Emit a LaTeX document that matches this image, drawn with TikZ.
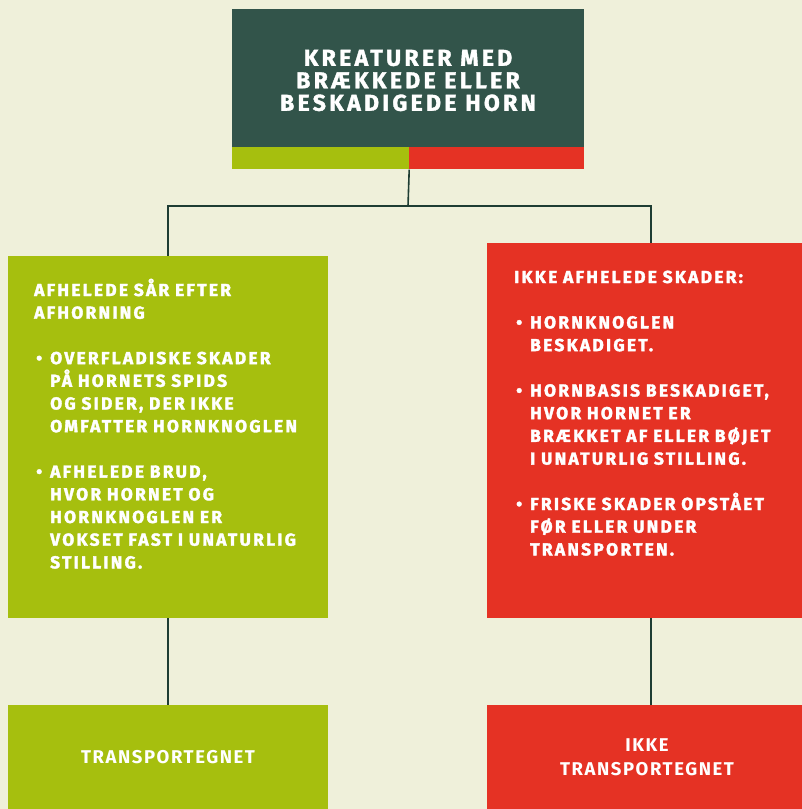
\documentclass[tikz,border=0pt]{standalone}
\usepackage{fontspec}
\setmainfont{Fira Sans}
\newfontfamily\boxfont[LetterSpace=13, BoldFeatures={FakeBold=2}]{Fira Sans}
\newfontfamily\headfont[LetterSpace=14.5, BoldFeatures={FakeBold=1.6}]{Fira Sans}
\newfontfamily\endfont[LetterSpace=8.5]{Fira Sans}
\usetikzlibrary{positioning}

\definecolor{bgcream}{HTML}{EFF0DA}
\definecolor{darkgreen}{HTML}{32544A}
\definecolor{limegreen}{HTML}{A6BF0E}
\definecolor{signalred}{HTML}{E53224}
\definecolor{linegreen}{HTML}{1E3D33}

\newcommand{\bul}{\hspace*{2pt}\makebox[14pt][l]{•}}
\newcommand{\ind}{\hspace*{16pt}}

\tikzset{
    block/.style={rectangle, inner sep=0pt, text=white},
    bodytext/.style={inner sep=0pt, text=white, align=left,
        font=\boxfont\bfseries\fontsize{17.4}{22.7}\selectfont},
    endtext/.style={block, align=center,
        font=\endfont\bfseries\fontsize{18.5}{23.5}\selectfont},
    link/.style={draw=linegreen, line width=1.6pt}
}

\begin{document}
\begin{tikzpicture}[x=1pt, y=-1pt]
    \fill[bgcream] (0,0) rectangle (802,809);
    \useasboundingbox (0,0) rectangle (802,809);

    % top box
    \node[block, fill=darkgreen, minimum width=352pt, minimum height=138pt]
        (title) at (408,78) {};
    \node[block, align=center, font=\headfont\bfseries\fontsize{23}{22.5}\selectfont]
        (titleTxt) at (408,80.5) {KREATURER MED\\BRÆKKEDE ELLER\\BESKADIGEDE HORN};
    \node[block, fill=limegreen, minimum width=177pt, minimum height=22pt,
        anchor=north west] (greenbar) at (title.south west) {};
    \node[block, fill=signalred, minimum width=175pt, minimum height=22pt,
        anchor=north west] (redbar) at (greenbar.north east) {};
    \coordinate (split) at (408,206);

    % middle boxes
    \node[block, fill=limegreen, minimum width=320pt, minimum height=362pt]
        (afhelet) at (168,437) {};
    \node[block, fill=signalred, minimum width=320pt, minimum height=375pt]
        (ikke) at (647,430.5) {};

    \node[bodytext, text width=290pt, anchor=base west] (afheletTxt) at (34,296)
        {AFHELEDE SÅR EFTER\\
         AFHORNING\\[22.7pt]
         \bul OVERFLADISKE SKADER\\
         \ind PÅ HORNETS SPIDS\\
         \ind OG SIDER, DER IKKE\\
         \ind OMFATTER HORNKNOGLEN\\[22.7pt]
         \bul AFHELEDE BRUD,\\
         \ind HVOR HORNET OG\\
         \ind HORNKNOGLEN ER\\
         \ind VOKSET FAST I UNATURLIG\\
         \ind STILLING.};
    \node[bodytext, text width=285pt, anchor=base west] (ikkeTxt) at (514,283)
        {IKKE AFHELEDE SKADER:\\[22.7pt]
         \bul HORNKNOGLEN\\
         \ind BESKADIGET.\\[22.7pt]
         \bul HORNBASIS BESKADIGET,\\
         \ind HVOR HORNET ER\\
         \ind BRÆKKET AF ELLER BØJET\\
         \ind I UNATURLIG STILLING.\\[22.7pt]
         \bul FRISKE SKADER OPSTÅET\\
         \ind FØR ELLER UNDER\\
         \ind TRANSPORTEN.};

    % bottom boxes
    \node[endtext, fill=limegreen, minimum width=320pt, minimum height=104pt]
        (transport) at (168,757) {TRANSPORTEGNET};
    \node[endtext, fill=signalred, minimum width=320pt, minimum height=104pt]
        (ikketransport) at (647,757) {IKKE\\TRANSPORTEGNET};

    % connectors
    \draw[link] (greenbar.south east) -- (split);
    \draw[link] (split) -| (afhelet.north);
    \draw[link] (split) -| ([xshift=4pt]ikke.north);
    \draw[link] (afhelet.south) -- (transport.north);
    \draw[link] ([xshift=4pt]ikke.south) -- ([xshift=4pt]ikketransport.north);
\end{tikzpicture}
\end{document}
